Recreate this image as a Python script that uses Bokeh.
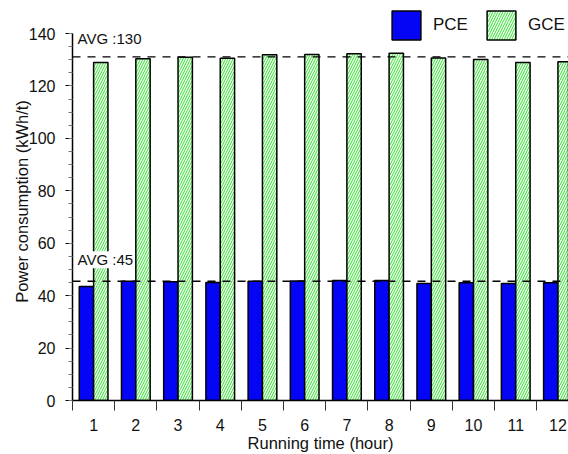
from bokeh.plotting import figure
from bokeh.models import (ColumnDataSource, FixedTicker, Range1d, Legend, LegendItem,
                          Span, Label)
from bokeh.embed import file_html
from bokeh.resources import INLINE

hours = [1, 2, 3, 4, 5, 6, 7, 8, 9, 10, 11, 12]
pce = [43.5, 45.5, 45.3, 45.0, 45.5, 45.6, 45.8, 45.8, 44.6, 44.9, 44.6, 44.9]
gce = [129.0, 130.4, 131.0, 130.6, 131.9, 132.0, 132.3, 132.5, 130.7, 130.1, 129.0, 129.2]
avg_lines = [45.5, 131.1]
avg_labels = ["AVG :45", "AVG :130"]
series_names = ["PCE", "GCE"]
y_ticks = [0, 20, 40, 60, 80, 100, 120, 140]

FONT = "Liberation Sans"
BW = 0.34
OFF = 0.17

src = ColumnDataSource(dict(
    x_pce=[h - OFF for h in hours],
    x_gce=[h + OFF for h in hours],
    pce=pce, gce=gce,
))

p = figure(width=568, height=454, output_backend="svg", toolbar_location=None,
           x_range=Range1d(0.5, 12.25), y_range=Range1d(0, 151.85),
           min_border_left=72, min_border_right=0, min_border_top=2,
           min_border_bottom=54)
p.outline_line_color = None
p.grid.visible = False
p.background_fill_color = "white"
p.border_fill_color = "white"

r_pce = p.vbar(x="x_pce", top="pce", width=BW, source=src, fill_color="#0505f5",
               line_color="black", line_width=1.5)
r_gce = p.vbar(x="x_gce", top="gce", width=BW, source=src, fill_color="#f8fff6",
               line_color="black", line_width=1.5, hatch_pattern="/",
               hatch_color="#2ee02e", hatch_scale=5, hatch_weight=1.0)

for v in avg_lines:
    p.add_layout(Span(location=v, dimension="width", line_color="black",
                      line_dash="8 7", line_width=1.3))

offsets = [13, 10]
for v, t, o in zip(avg_lines, avg_labels, offsets):
    p.add_layout(Label(x=0.62, y=v, y_offset=o, text=t, text_font=FONT,
                       text_font_size="15px", text_color="#111111",
                       background_fill_color="white", text_baseline="bottom"))

# axes
xa = p.xaxis[0]
xa.ticker = FixedTicker(ticks=hours, minor_ticks=[h + 0.5 for h in range(0, 13)])
xa.major_tick_out = 0
xa.major_tick_in = 0
xa.minor_tick_out = 10
xa.minor_tick_in = 0
xa.minor_tick_line_color = "#333333"
xa.major_label_standoff = 8
xa.axis_label = "Running time (hour)"
xa.axis_label_standoff = 0

ya = p.yaxis[0]
ya.bounds = (0, 140)
ya.ticker = FixedTicker(ticks=y_ticks, minor_ticks=list(range(0, 141, 5)))
ya.major_tick_out = 7
ya.major_tick_in = 0
ya.minor_tick_out = 4
ya.minor_tick_in = 0
ya.minor_tick_line_color = "#777777"
ya.major_label_standoff = 10
ya.axis_label = "Power consumption (kWh/t)"
ya.axis_label_standoff = -5

for ax in (xa, ya):
    ax.axis_line_color = "black"
    ax.axis_line_width = 1.5
    ax.major_tick_line_color = "black"
    ax.major_tick_line_width = 1.2
    ax.major_label_text_font = FONT
    ax.major_label_text_font_size = "16px"
    ax.major_label_text_color = "#111111"
    ax.axis_label_text_font = FONT
    ax.axis_label_text_font_size = "16.5px"
    ax.axis_label_text_font_style = "normal"
    ax.axis_label_text_color = "#111111"

legend = Legend(items=[LegendItem(label=series_names[0], renderers=[r_pce]),
                       LegendItem(label=series_names[1], renderers=[r_gce])],
                location=(316, 357), orientation="horizontal",
                glyph_width=36, glyph_height=36, label_standoff=9, spacing=15,
                padding=0, margin=0, border_line_color=None,
                background_fill_alpha=0, label_text_font=FONT,
                label_text_font_size="17px", label_text_color="#111111")
p.add_layout(legend, "center")

open("out.html", "w").write(file_html(p, INLINE))
